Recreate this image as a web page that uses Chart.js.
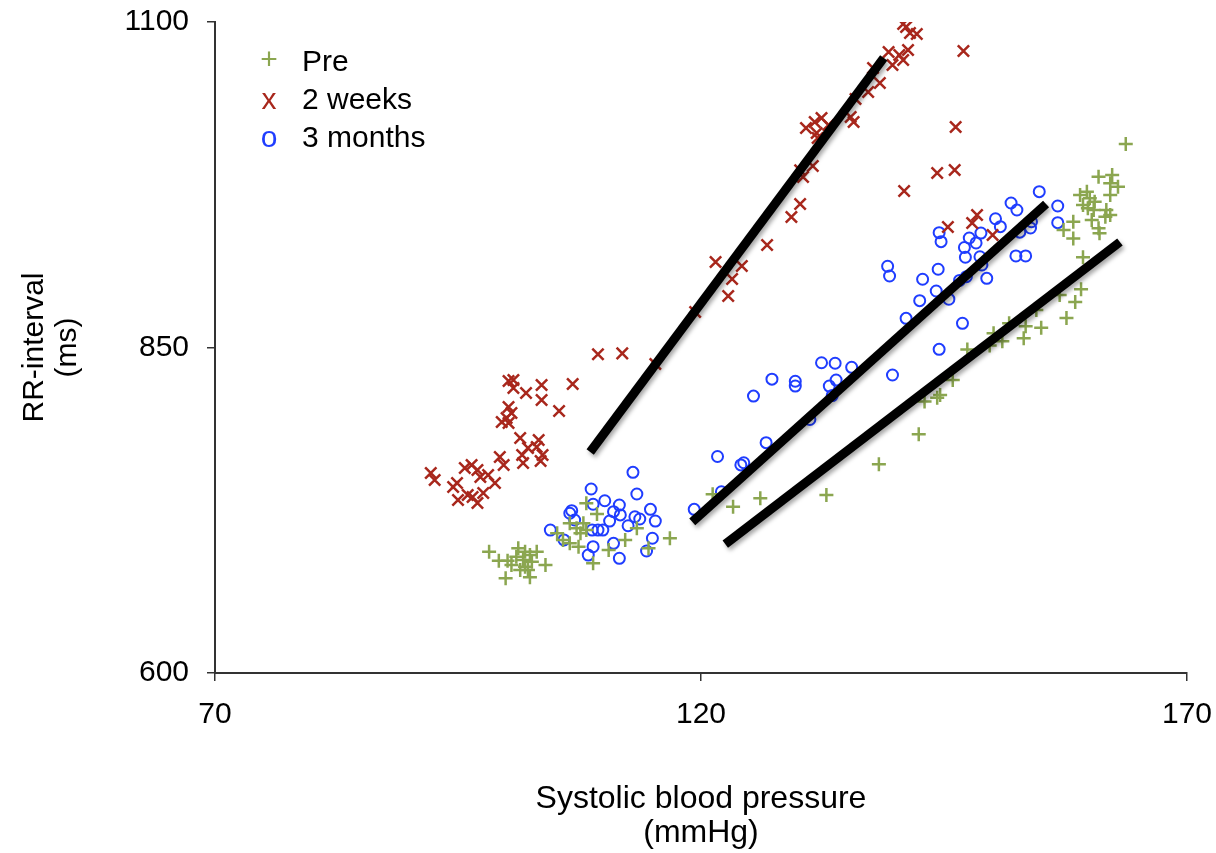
<!DOCTYPE html>
<html>
<head>
<meta charset="utf-8">
<title>RR-interval vs systolic blood pressure</title>
<script src="https://cdn.jsdelivr.net/npm/chart.js@4.4.1/dist/chart.umd.min.js"></script>
<style>
  html, body { margin: 0; padding: 0; background: #fff; }
  #wrap { width: 1216px; height: 853px; position: relative; }
</style>
</head>
<body>
<div id="wrap"><canvas id="bpChart"></canvas></div>
<script>
// series names + legend glyphs
var seriesNames = ['Pre', '2 weeks', '3 months'];
var legendGlyphs = ['+', 'x', 'o'];

// axis ticks
var xTicks = [70, 120, 170];
var yTicks = [600, 850, 1100];

// Pre
var preX = [98.2, 99.2, 100.1, 100.5, 101.2, 101.9, 102.4, 103.1, 102.6, 101.9, 101.4, 102.2, 104.0, 99.9, 102.4, 101.0, 101.7,
  108.2, 109.3, 106.5, 107.2, 107.9, 108.2, 107.6, 105.2, 105.8, 106.5, 107.4, 110.5, 112.2, 113.4, 116.8, 108.9, 114.6,
  121.2, 123.3, 126.1, 132.9, 138.3, 142.4, 143.0, 144.6, 144.3, 145.9, 147.4, 149.7, 151.0, 150.1, 151.7, 153.2,
  153.4, 155.0, 154.5, 157.6, 158.5, 159.1, 156.9, 159.3, 158.3, 158.3, 157.3, 160.2, 160.9, 161.0, 161.7, 161.6,
  162.1, 159.0, 159.7, 160.0, 160.5, 159.3, 159.8, 160.4, 160.9, 162.3, 162.1, 162.9, 162.1, 163.7];
var preY = [693.2, 686.3, 686.3, 682.9, 695.8, 693.2, 690.6, 693.2, 685.5, 681.6, 679.1, 679.1, 683.0, 672.7, 673.5, 689.3, 686.8,
  730.3, 722.1, 715.0, 711.1, 715.0, 709.8, 707.3, 707.3, 702.2, 699.6, 697.0, 694.5, 702.2, 711.1, 703.5, 684.3, 695.8,
  737.3, 727.7, 734.2, 736.7, 760.3, 783.3, 808.5, 813.5, 811.5, 825.0, 848.5, 851.5, 854.8, 860.9, 868.6, 857.1,
  866.3, 865.1, 878.8, 872.7, 884.9, 894.7, 890.3, 919.3, 933.7, 946.6, 940.2, 947.9, 941.5, 937.7, 955.6, 950.5,
  951.8, 967.1, 969.7, 964.6, 962.0, 959.4, 956.9, 955.6, 981.2, 982.5, 976.1, 973.5, 967.1, 1006.3];

// 2 weeks
var weeksX = [109.4, 111.9, 115.3, 100.2, 100.7, 100.7, 102.0, 103.6, 106.8, 103.6, 105.4, 100.2, 100.5, 100.0, 99.5, 100.2,
  101.4, 102.2, 103.3, 103.1, 103.7, 101.6, 103.5, 101.7, 99.3, 99.7, 92.2, 92.6, 95.7, 96.4, 97.0, 97.3, 98.1, 98.8,
  94.9, 94.5, 95.0, 96.0, 97.0, 97.6, 96.5,
  119.4, 121.5, 123.2, 124.2, 122.8, 126.8, 129.3, 130.2, 130.5, 131.5, 130.2, 130.8, 131.7, 132.4, 131.9, 133.1, 132.0,
  135.4, 135.7, 135.9, 137.2, 138.4, 137.7, 139.3, 140.4, 139.7, 140.8, 141.3, 141.1, 141.5, 142.2, 140.8, 147.0, 146.2,
  144.3, 146.1, 140.9, 145.4, 147.9, 148.4, 150.0];
var weeksY = [844.8, 845.5, 837.3, 824.3, 825.0, 818.9, 815.1, 821.2, 822.0, 809.7, 801.2, 804.3, 799.7, 795.9, 792.8, 792.0,
  780.5, 772.8, 779.0, 773.6, 767.4, 767.4, 762.8, 761.3, 765.9, 759.8, 753.6, 748.2, 757.5, 759.8, 755.9, 750.5, 752.1, 745.9,
  745.9, 742.9, 732.9, 736.7, 730.6, 738.2, 735.2,
  877.3, 915.7, 902.6, 912.6, 889.6, 928.7, 950.2, 960.2, 981.0, 989.4, 986.2, 1018.6, 1023.2, 1026.3, 1014.7, 1020.9, 1010.9,
  1027.0, 1023.2, 1040.9, 1046.2, 1053.1, 1064.7, 1077.0, 1074.7, 1067.0, 1070.8, 1078.5, 1096.2, 1091.6, 1090.8, 1098.5, 1077.7, 1019.4,
  984.0, 986.3, 970.2, 942.5, 945.6, 951.8, 936.4];

// 3 months
var monthsX = [113.0, 108.7, 113.4, 110.1, 111.6, 108.9, 106.7, 106.5, 107.0, 111.0, 111.7, 114.8, 113.2, 113.7, 110.6, 115.3,
  112.5, 108.8, 109.4, 109.9, 104.5, 105.9, 108.9, 108.4, 111.0, 115.0, 114.4, 111.6,
  119.3, 122.1, 121.7, 124.1, 124.4, 126.7, 131.2, 125.4, 127.3, 129.7, 129.7, 132.4, 133.8, 135.5, 133.2, 133.9, 133.5,
  139.7, 141.1, 142.5, 142.8, 139.2, 139.4, 144.4, 144.2, 145.5, 146.9, 144.5, 144.5, 144.7, 146.6, 147.3, 147.2, 147.1,
  147.6, 148.3, 148.8, 148.7, 148.9, 149.4, 150.3, 150.8, 151.9, 152.5, 152.4, 153.4, 152.8, 153.9, 154.0, 154.8, 156.7, 156.7];
var monthsY = [754.1, 741.3, 737.5, 732.3, 729.0, 729.6, 724.7, 722.7, 717.5, 723.9, 721.4, 725.7, 720.0, 718.3, 716.7, 716.7,
  713.1, 709.8, 709.8, 709.8, 709.8, 702.2, 697.0, 690.6, 699.6, 703.5, 693.7, 688.1,
  725.7, 739.2, 766.3, 759.8, 761.5, 776.9, 794.7, 812.7, 825.7, 824.1, 820.4, 838.3, 837.9, 834.8, 820.4, 825.0, 813.1,
  828.9, 872.4, 886.0, 902.4, 912.4, 904.9, 910.1, 893.4, 887.1, 868.6, 848.6, 938.2, 931.3, 901.5, 904.4, 919.3, 926.8,
  934.1, 930.3, 937.9, 919.7, 913.4, 903.1, 948.9, 942.8, 961.0, 955.6, 920.3, 920.3, 938.6, 941.8, 946.6, 969.7, 958.7, 945.9];

// regression lines (end points)
var preFitX = [122.5, 163.1], preFitY = [699.0, 931.0];
var weeksFitX = [108.6, 138.8], weeksFitY = [769.7, 1072.4];
var monthsFitX = [119.1, 155.5], monthsFitY = [716.0, 960.2];

var colors = ['#8BA650', '#A8271C', '#1F3DFF'];
var FONT = "'Liberation Sans', Arial, Helvetica, sans-serif";

function pts(xs, ys) {
  return xs.map(function (x, i) { return { x: x, y: ys[i] }; });
}

function fitLine(xs, ys) {
  return {
    data: pts(xs, ys),
    showLine: true,
    borderColor: '#000',
    borderWidth: 9,
    pointRadius: 0,
    order: 0,
    isFit: true
  };
}

// legend drawn inside plot, top-left
var legendPlugin = {
  id: 'innerLegend',
  afterDraw: function (chart) {
    var ctx = chart.ctx;
    ctx.save();
    ctx.textBaseline = 'middle';
    var rowsY = [63, 101, 139];
    seriesNames.forEach(function (name, i) {
      ctx.font = '30px ' + FONT;
      ctx.fillStyle = colors[i];
      ctx.textAlign = 'center';
      ctx.fillText(legendGlyphs[i], 269, rowsY[i] - (i === 0 ? 2 : 0));
      ctx.fillStyle = '#000';
      ctx.textAlign = 'left';
      ctx.fillText(name, 302, rowsY[i]);
    });
    ctx.restore();
  }
};

// soft drop shadow under the fit lines
var shadowPlugin = {
  id: 'fitShadow',
  beforeDatasetDraw: function (chart, args) {
    if (!args.meta._dataset.isFit) return;
    var ctx = chart.ctx;
    ctx.save();
    ctx.shadowColor = 'rgba(0,0,0,0.35)';
    ctx.shadowBlur = 4;
    ctx.shadowOffsetX = 2;
    ctx.shadowOffsetY = 3;
  },
  afterDatasetDraw: function (chart, args) {
    if (!args.meta._dataset.isFit) return;
    chart.ctx.restore();
  }
};

var plainTick = function (v) { return String(v); };

var ctx = document.getElementById('bpChart').getContext('2d');
var bpChart = new Chart(ctx, {
  type: 'scatter',
  data: {
    datasets: [
      fitLine(weeksFitX, weeksFitY),
      fitLine(monthsFitX, monthsFitY),
      fitLine(preFitX, preFitY),
      {
        label: seriesNames[0],
        data: pts(preX, preY),
        pointStyle: 'cross',
        pointRadius: 7,
        pointBorderWidth: 2.5,
        borderColor: colors[0],
        backgroundColor: colors[0],
        order: 1
      },
      {
        label: seriesNames[1],
        data: pts(weeksX, weeksY),
        pointStyle: 'crossRot',
        pointRadius: 8,
        pointBorderWidth: 2.5,
        borderColor: colors[1],
        backgroundColor: colors[1],
        order: 1
      },
      {
        label: seriesNames[2],
        data: pts(monthsX, monthsY),
        pointStyle: 'circle',
        pointRadius: 5.5,
        pointBorderWidth: 2,
        borderColor: colors[2],
        backgroundColor: 'rgba(0,0,0,0)',
        order: 1
      }
    ]
  },
  options: {
    responsive: true,
    maintainAspectRatio: false,
    animation: false,
    layout: { padding: { top: 22, right: 29, left: 0, bottom: 0 } },
    plugins: {
      legend: { display: false },
      tooltip: { enabled: false }
    },
    scales: {
      x: {
        type: 'linear',
        min: 70,
        max: 170,
        afterFit: function (scale) {
          scale.height = 180;
          scale.paddingLeft = 0;
          scale.paddingRight = 0;
        },
        afterBuildTicks: function (scale) {
          scale.ticks = xTicks.map(function (v) { return { value: v }; });
        },
        ticks: { font: { size: 30, family: FONT }, color: '#000', padding: 16, maxRotation: 0, callback: plainTick },
        grid: { display: true, drawOnChartArea: false, drawTicks: true, tickLength: 8, color: '#333', lineWidth: 1.5 },
        border: { display: true, color: '#333', width: 2 },
        title: {
          display: true,
          text: ['Systolic blood pressure', '(mmHg)'],
          font: { size: 32, family: FONT, lineHeight: 1.05 },
          color: '#000',
          padding: { top: 0, bottom: 3 }
        }
      },
      y: {
        type: 'linear',
        min: 600,
        max: 1100,
        afterFit: function (scale) {
          scale.width = 215;
          scale.paddingTop = 0;
          scale.paddingBottom = 0;
        },
        afterBuildTicks: function (scale) {
          scale.ticks = yTicks.map(function (v) { return { value: v }; });
        },
        ticks: { font: { size: 30, family: FONT }, color: '#000', padding: 18, callback: plainTick },
        grid: { display: true, drawOnChartArea: false, drawTicks: true, tickLength: 8, color: '#333', lineWidth: 1.5 },
        border: { display: true, color: '#333', width: 2 },
        title: {
          display: true,
          text: ['RR-interval', '(ms)'],
          font: { size: 30, family: FONT, lineHeight: 1.1 },
          color: '#000',
          padding: { top: 18, bottom: 0 }
        }
      }
    }
  },
  plugins: [legendPlugin, shadowPlugin]
});
</script>
</body>
</html>
